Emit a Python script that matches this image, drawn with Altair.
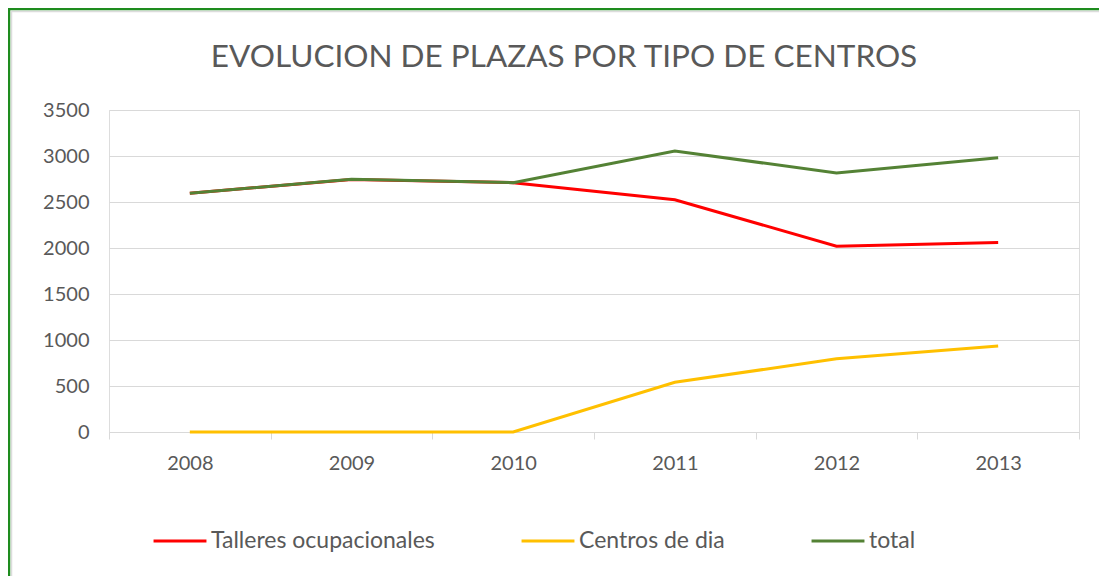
import altair as alt
import pandas as pd

years = ["2008", "2009", "2010", "2011", "2012", "2013"]
talleres = [2595, 2745, 2710, 2525, 2020, 2060]
centros = [0, 0, 0, 540, 795, 935]
total = [2595, 2747, 2710, 3055, 2815, 2982]
series_names = ["Talleres ocupacionales", "Centros de dia", "total"]
series_colors = ["#FF0000", "#FFC000", "#548235"]
y_ticks = [0, 500, 1000, 1500, 2000, 2500, 3000, 3500]

rows = []
for name, vals in zip(series_names, [talleres, centros, total]):
    for yr, v in zip(years, vals):
        rows.append({"year": yr, "serie": name, "plazas": v})
df = pd.DataFrame(rows)

FONT = "Lato"
TXT = "#595959"

lines = alt.Chart(df).mark_line(strokeWidth=3).encode(
    x=alt.X(
        "year:N",
        sort=years,
        title=None,
        scale=alt.Scale(type="band", paddingInner=0, paddingOuter=0),
        axis=alt.Axis(
            tickBand="extent",
            labelAngle=0,
            domainColor="#d9d9d9",
            tickColor="#d9d9d9",
            tickSize=7,
            labelPadding=14,
            labelFont=FONT,
            labelFontSize=20,
            labelColor=TXT,
        ),
    ),
    y=alt.Y(
        "plazas:Q",
        title=None,
        scale=alt.Scale(domain=[0, 3500], nice=False),
        axis=alt.Axis(
            values=y_ticks,
            format="d",
            domain=False,
            ticks=False,
            gridColor="#d9d9d9",
            labelPadding=20,
            labelFont=FONT,
            labelFontSize=20,
            labelColor=TXT,
        ),
    ),
    color=alt.Color(
        "serie:N",
        sort=series_names,
        scale=alt.Scale(domain=series_names, range=series_colors),
        legend=alt.Legend(
            title=None,
            orient="none",
            direction="horizontal",
            legendX=43,
            legendY=403,
            symbolType="stroke",
            symbolSize=2800,
            symbolStrokeWidth=3,
            labelFont=FONT,
            labelFontSize=23,
            labelColor=TXT,
            labelOffset=3,
            labelLimit=400,
            columnPadding=80,
            padding=0,
        ),
    ),
)

frame_df = pd.DataFrame({"k": [0]})
border = alt.Chart(frame_df).mark_rect(
    fillOpacity=0, stroke="#1e8c1e", strokeWidth=2.5
).encode(
    x=alt.value(-100), x2=alt.value(1040), y=alt.value(-101), y2=alt.value(520)
)
shadow = alt.Chart(frame_df).mark_rect(
    fillOpacity=0, stroke="#dcdcdc", strokeWidth=1.5
).encode(
    x=alt.value(-97.5), x2=alt.value(1040), y=alt.value(-98.5), y2=alt.value(520)
)

chart = alt.layer(shadow, border, lines).properties(
    width=970,
    height=322,
    title=alt.TitleParams(
        "EVOLUCION DE PLAZAS POR TIPO DE CENTROS",
        font=FONT,
        fontSize=31.5,
        fontWeight="normal",
        color=TXT,
        dx=-30,
        offset=-66,
    ),
    autosize=alt.AutoSizeParams(type="none"),
    padding={"left": 101, "top": 102, "right": 20, "bottom": 144},
).configure_view(stroke=None).configure(background="white")

chart.save("out.html", embed_options={"renderer": "svg", "actions": False})
